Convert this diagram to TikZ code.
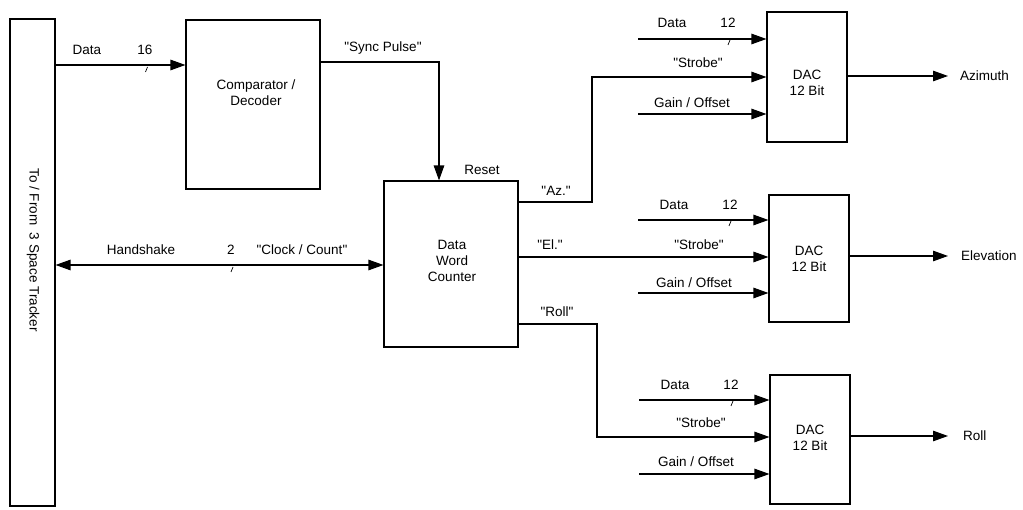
\documentclass[tikz,border=0pt]{standalone}
\usepackage{fontspec}
\setmainfont{Liberation Sans}[Ligatures=NoCommon,Mapping=]
\usetikzlibrary{arrows.meta}
\newcommand\dq{\char34\relax}
\begin{document}
\begin{tikzpicture}[x=1pt,y=-1pt,
  every node/.style={font=\fontsize{13.5}{16}\selectfont},
  box/.style={draw,line width=1.1pt,inner sep=0pt},
  lbl/.style={inner sep=0pt,anchor=center},
  wire/.style={line width=1.2pt},
  arr/.style={wire,-{Triangle[length=15pt,width=10.5pt]}},
  darr/.style={wire,{Triangle[length=15pt,width=10.5pt]}-{Triangle[length=15pt,width=10.5pt]}},
  tick/.style={line width=0.7pt}]
\useasboundingbox (0,0) rectangle (1023,510);
% boxes
\node[box,minimum width=45pt,minimum height=487pt] (tracker) at (32.5,262.5) {};
\node[lbl,rotate=-90] (trackertext) at (33,250) {To / From\ \ 3 Space Tracker};
\node[box,minimum width=134pt,minimum height=169pt] (comp) at (253,104.5) {};
\node[lbl,align=center] (comptext) at (256,93) {Comparator /\\Decoder};
\node[box,minimum width=134pt,minimum height=166pt] (counter) at (451,264) {};
\node[lbl,align=center] (countertext) at (452,261) {Data\\Word\\Counter};
\node[box,minimum width=80pt,minimum height=130pt] (dac1) at (807,77) {};
\node[lbl,align=center] (dac1text) at (807,83) {DAC\\12 Bit};
\node[box,minimum width=80pt,minimum height=127pt] (dac2) at (809,258.5) {};
\node[lbl,align=center] (dac2text) at (809,259) {DAC\\12 Bit};
\node[box,minimum width=80pt,minimum height=129pt] (dac3) at (810,439.5) {};
\node[lbl,align=center] (dac3text) at (810,438) {DAC\\12 Bit};
% data to comparator
\draw[arr] (tracker.east |- 0,65) -- (comp.west |- 0,65);
\node[lbl] (ldata) at (87,50) {Data};
\node[lbl] (l16) at (145,50) {16};
\draw[tick] (145.5,72) -- (147.5,67);
% sync pulse
\draw[arr] (comp.east |- 0,62) -| (counter.north -| 439,0);
\node[lbl] (lsync) at (383,48) {\dq Sync Pulse\dq};
\node[lbl] (lreset) at (482,170) {Reset};
% handshake
\draw[darr] (tracker.east |- 0,265) -- (counter.west |- 0,265);
\node[lbl] (lhand) at (141,250) {Handshake};
\node[lbl] (l2) at (231,250) {2};
\node[lbl] (lclock) at (302,250) {\dq Clock / Count\dq};
\draw[tick] (231,272) -- (233,267);
% Az
\draw[arr] (counter.east |- 0,202) -- (592,202) |- (dac1.west |- 0,77);
\node[lbl] (laz) at (556,191) {\dq Az.\dq};
% El
\draw[arr] (counter.east |- 0,257) -- (dac2.west |- 0,257);
\node[lbl] (lel) at (550,245) {\dq El.\dq};
% Roll
\draw[arr] (counter.east |- 0,324) -- (597,324) |- (dac3.west |- 0,437);
\node[lbl] (lroll) at (557,312) {\dq Roll\dq};
% DAC1 inputs
\coordinate (d1a) at (638,39);
\coordinate (d1c) at (638,114);
\draw[arr] (d1a) -- (dac1.west |- d1a);
\draw[arr] (d1c) -- (dac1.west |- d1c);
\draw[tick] (728,45) -- (730,40);
\node[lbl] (l1data) at (672,23) {Data};
\node[lbl] (l112) at (728,23) {12};
\node[lbl] (l1strobe) at (698,63) {\dq Strobe\dq};
\node[lbl] (l1gain) at (692,103) {Gain / Offset};
% DAC2 inputs
\coordinate (d2a) at (638,220);
\coordinate (d2c) at (638,293);
\draw[arr] (d2a) -- (dac2.west |- d2a);
\draw[arr] (d2c) -- (dac2.west |- d2c);
\draw[tick] (729,226) -- (731,221);
\node[lbl] (l2data) at (674,205) {Data};
\node[lbl] (l212) at (730,205) {12};
\node[lbl] (l2strobe) at (699,245) {\dq Strobe\dq};
\node[lbl] (l2gain) at (694,283) {Gain / Offset};
% DAC3 inputs
\coordinate (d3a) at (639,400);
\coordinate (d3c) at (639,474);
\draw[arr] (d3a) -- (dac3.west |- d3a);
\draw[arr] (d3c) -- (dac3.west |- d3c);
\draw[tick] (731,406) -- (733,401);
\node[lbl] (l3data) at (675,385) {Data};
\node[lbl] (l312) at (731,385) {12};
\node[lbl] (l3strobe) at (701,423) {\dq Strobe\dq};
\node[lbl] (l3gain) at (696,462) {Gain / Offset};
% outputs
\node[inner sep=0pt,anchor=west] (oaz) at (960,76) {Azimuth};
\node[inner sep=0pt,anchor=west] (oel) at (961,256) {Elevation};
\node[inner sep=0pt,anchor=west] (oroll) at (963,436) {Roll};
\draw[arr,shorten >=12pt] (dac1.east |- oaz) -- (oaz.west);
\draw[arr,shorten >=13pt] (dac2.east |- oel) -- (oel.west);
\draw[arr,shorten >=15pt] (dac3.east |- oroll) -- (oroll.west);
\end{tikzpicture}
\end{document}
